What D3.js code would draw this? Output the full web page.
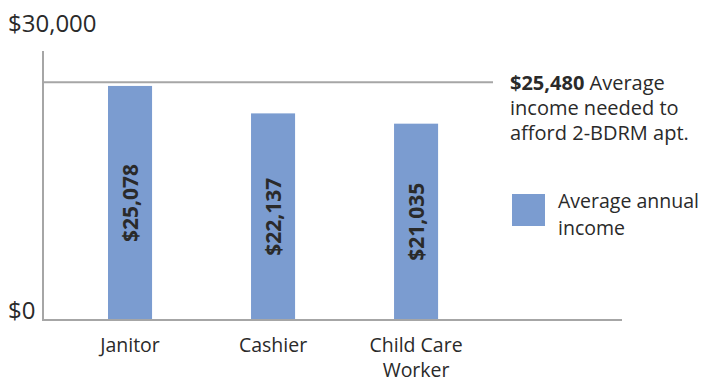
<!DOCTYPE html>
<html><head><meta charset="utf-8">
<script src="https://cdn.jsdelivr.net/npm/d3@7"></script>
<style>
html,body{margin:0;padding:0;background:#fff;}
svg{display:block;font-family:"Open Sans",sans-serif;}
</style></head>
<body>
<svg id="chart" width="701" height="383"></svg>
<script>
const categories = [["Janitor"], ["Cashier"], ["Child Care", "Worker"]];
const values = [25078, 22137, 21035];
const valueLabels = ["$25,078", "$22,137", "$21,035"];
const yTicks = [0, 30000];
const yTickLabels = ["$0", "$30,000"];
const refValue = 25480;
const refLabelBold = "$25,480";
const refLabelLines = [" Average", "income needed to", "afford 2-BDRM apt."];
const legendLines = ["Average annual", "income"];

const svg = d3.select("#chart");
const barColor = "#7b9cd0";
const axisColor = "#a6a6a6";
const textColor = "#2a2a2a";

const y = d3.scaleLinear().domain([0, 30000]).range([320, 40]);
const x = d3.scaleBand().domain(d3.range(categories.length)).range([36.5, 509.6]).paddingInner(0.692).paddingOuter(0.5);

// reference line
svg.append("line").attr("x1", 43).attr("x2", 493)
  .attr("y1", y(refValue)).attr("y2", y(refValue))
  .attr("stroke", axisColor).attr("stroke-width", 2);

// bars
svg.selectAll("rect.bar").data(values).join("rect").attr("class", "bar")
  .attr("x", (d, i) => x(i)).attr("width", x.bandwidth())
  .attr("y", d => y(d)).attr("height", d => y(0) - y(d))
  .attr("fill", barColor);

// value labels
svg.selectAll("text.val").data(values).join("text").attr("class", "val")
  .attr("transform", (d, i) => `translate(${x(i) + x.bandwidth() / 2},${(y(d) + y(0)) / 2}) rotate(-90)`)
  .attr("text-anchor", "middle").attr("dy", "0.36em")
  .attr("font-size", 21).attr("font-weight", 700).attr("fill", textColor)
  .text((d, i) => valueLabels[i]);

// axes
svg.append("line").attr("x1", 43).attr("x2", 43).attr("y1", 51).attr("y2", y(0) + 1)
  .attr("stroke", axisColor).attr("stroke-width", 2);
svg.append("line").attr("x1", 42).attr("x2", 622).attr("y1", y(0)).attr("y2", y(0))
  .attr("stroke", axisColor).attr("stroke-width", 2);

// y tick labels
svg.selectAll("text.ytick").data(yTicks).join("text").attr("class", "ytick")
  .attr("x", 8).attr("y", (d, i) => i === 0 ? y(d) - 1 : y(d) - 8)
  .attr("font-size", 24).attr("fill", textColor)
  .text((d, i) => yTickLabels[i]);

// category labels
const cat = svg.selectAll("text.cat").data(categories).join("text").attr("class", "cat")
  .attr("text-anchor", "middle").attr("font-size", 19.5).attr("fill", textColor);
cat.selectAll("tspan").data((d, i) => d.map(s => ({ s, i }))).join("tspan")
  .attr("x", d => x(d.i) + x.bandwidth() / 2)
  .attr("y", (d, j) => 352 + j * 24.5)
  .text(d => d.s);

// reference annotation
const ref = svg.append("text").attr("x", 510).attr("font-size", 20).attr("fill", textColor);
const t0 = ref.append("tspan").attr("x", 510).attr("y", 90);
t0.append("tspan").attr("font-weight", 700).text(refLabelBold);
t0.append("tspan").text(refLabelLines[0]);
ref.append("tspan").attr("x", 510).attr("y", 115).text(refLabelLines[1]);
ref.append("tspan").attr("x", 510).attr("y", 140).text(refLabelLines[2]);

// legend
svg.append("rect").attr("x", 512).attr("y", 194).attr("width", 33).attr("height", 32).attr("fill", barColor);
svg.append("text").attr("font-size", 19.5).attr("fill", textColor)
  .selectAll("tspan").data(legendLines).join("tspan")
  .attr("x", 558).attr("y", (d, i) => 208 + i * 27).text(d => d);
</script>
</body></html>
